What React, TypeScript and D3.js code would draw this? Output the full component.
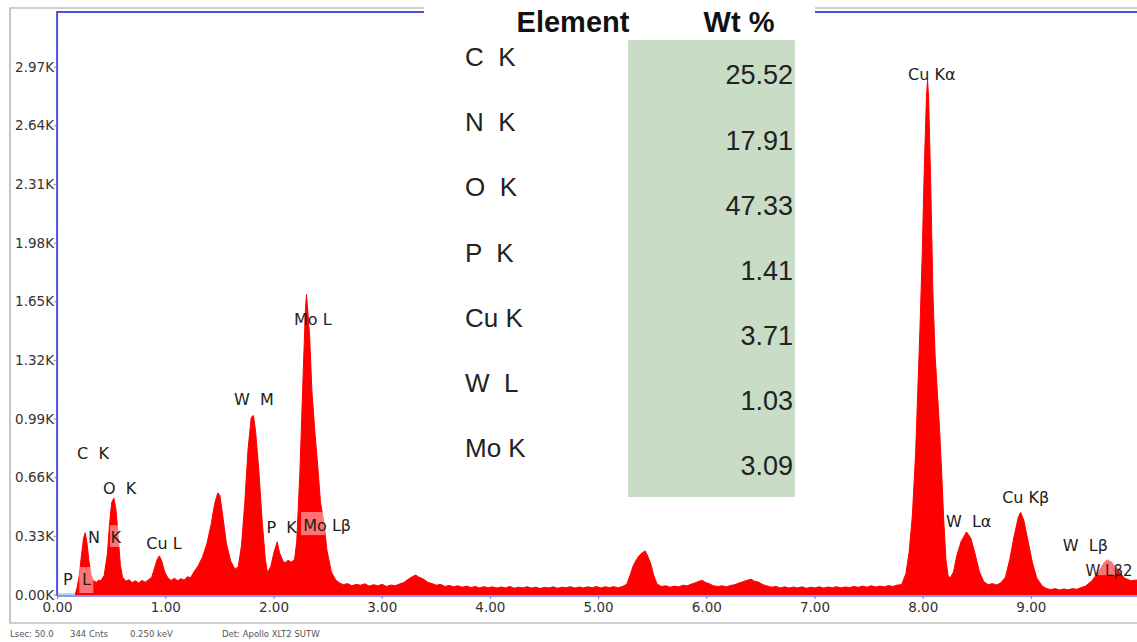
import { useEffect, useRef } from 'react';
import * as d3 from 'd3';

// EDS spectrum, as [keV, counts], in three stretches
const lowBand: [number, number][] = [
  [0.16, 0], [0.18, 40], [0.20, 110], [0.22, 220], [0.24, 320], [0.255, 350], [0.27, 300], [0.29, 190], [0.31, 110],
  [0.33, 80], [0.36, 72], [0.38, 84], [0.40, 80], [0.43, 110], [0.46, 230], [0.48, 400], [0.50, 520], [0.52, 545],
  [0.54, 480], [0.56, 330], [0.58, 170], [0.60, 100], [0.63, 78], [0.66, 86], [0.69, 70], [0.72, 80], [0.75, 68],
  [0.78, 82], [0.81, 72], [0.84, 86], [0.87, 100], [0.89, 140], [0.92, 200], [0.94, 220], [0.96, 195], [0.99, 130],
  [1.02, 95], [1.05, 82], [1.08, 94], [1.11, 80], [1.14, 92], [1.17, 84], [1.20, 102], [1.23, 98], [1.26, 130],
  [1.30, 165], [1.34, 215], [1.38, 290], [1.42, 400], [1.45, 510], [1.48, 575], [1.50, 560], [1.53, 430], [1.56, 290],
  [1.60, 190], [1.64, 145], [1.67, 160], [1.70, 280], [1.73, 520], [1.76, 820], [1.79, 1000], [1.81, 1010], [1.83, 920],
  [1.86, 700], [1.89, 420], [1.92, 200], [1.94, 125], [1.97, 160], [2.00, 240], [2.03, 300], [2.05, 240], [2.08, 195],
  [2.10, 180], [2.13, 195], [2.16, 185], [2.19, 200], [2.21, 300], [2.24, 700], [2.27, 1250], [2.29, 1600], [2.30, 1690],
  [2.31, 1620], [2.33, 1450], [2.35, 1150], [2.38, 900], [2.40, 760], [2.43, 520], [2.46, 410], [2.49, 250], [2.53, 130],
  [2.57, 85],
];
const midBand: [number, number][] = [
  [2.60, 70], [2.64, 58], [2.68, 64], [2.72, 52], [2.76, 60], [2.80, 55], [2.84, 63], [2.88, 50], [2.92, 58], [2.96, 52],
  [3.00, 60], [3.04, 48], [3.08, 56], [3.12, 52], [3.16, 62], [3.20, 70], [3.24, 88], [3.28, 104], [3.31, 112], [3.34, 100],
  [3.38, 90], [3.42, 72], [3.46, 64], [3.50, 55], [3.54, 60], [3.58, 48], [3.62, 54], [3.66, 46], [3.70, 52], [3.74, 44],
  [3.78, 50], [3.82, 42], [3.86, 48], [3.90, 40], [3.94, 47], [3.98, 41], [4.02, 46], [4.06, 39], [4.10, 45], [4.14, 40],
  [4.18, 48], [4.22, 38], [4.26, 44], [4.30, 40], [4.34, 47], [4.38, 39], [4.42, 44], [4.46, 37], [4.50, 43], [4.54, 40],
  [4.58, 46], [4.62, 38], [4.66, 44], [4.70, 41], [4.74, 47], [4.78, 39], [4.82, 45], [4.86, 40], [4.90, 46], [4.94, 41],
  [4.98, 48], [5.02, 40], [5.06, 46], [5.10, 42], [5.14, 47], [5.18, 41], [5.22, 48], [5.26, 60], [5.29, 110], [5.32, 165],
  [5.35, 200], [5.38, 225], [5.41, 240], [5.43, 248], [5.45, 225], [5.48, 180], [5.51, 110], [5.54, 62], [5.58, 48],
  [5.62, 52], [5.66, 44], [5.70, 50], [5.74, 46], [5.78, 55], [5.82, 52], [5.86, 62], [5.90, 70], [5.93, 78], [5.96, 82],
  [5.99, 70], [6.02, 64], [6.06, 52], [6.10, 48], [6.14, 52], [6.18, 46], [6.22, 54], [6.26, 58], [6.30, 68], [6.34, 76],
  [6.38, 84], [6.41, 88], [6.44, 78], [6.48, 72], [6.52, 58], [6.56, 50], [6.60, 44], [6.64, 48], [6.68, 40], [6.72, 46],
  [6.76, 39], [6.80, 45], [6.84, 40], [6.88, 46], [6.92, 38], [6.96, 44], [7.00, 40], [7.04, 46], [7.08, 39], [7.12, 45],
  [7.16, 41], [7.20, 47], [7.24, 40], [7.28, 45], [7.32, 42], [7.36, 48], [7.40, 43], [7.44, 50], [7.48, 44], [7.52, 52],
  [7.56, 45], [7.60, 50], [7.64, 46], [7.68, 53], [7.72, 48], [7.76, 56],
];
const highBand: [number, number][] = [
  [7.80, 58], [7.84, 120], [7.87, 240], [7.90, 450], [7.93, 800], [7.95, 1150], [7.97, 1500], [7.99, 1900], [8.01, 2400],
  [8.03, 2800], [8.04, 2900], [8.05, 2800], [8.07, 2300], [8.09, 1700], [8.11, 1350], [8.13, 1150], [8.15, 950],
  [8.17, 700], [8.19, 420], [8.21, 200], [8.23, 110], [8.25, 95], [8.28, 130], [8.31, 220], [8.35, 300], [8.40, 355],
  [8.44, 320], [8.48, 230], [8.52, 130], [8.56, 75], [8.60, 58], [8.64, 64], [8.68, 56], [8.72, 70], [8.76, 100],
  [8.80, 200], [8.84, 330], [8.88, 440], [8.90, 465], [8.93, 420], [8.97, 300], [9.01, 180], [9.05, 95], [9.10, 50],
  [9.14, 36], [9.18, 30], [9.22, 36], [9.26, 28], [9.30, 34], [9.34, 29], [9.38, 36], [9.42, 32], [9.46, 42], [9.50, 50],
  [9.56, 80], [9.62, 130], [9.67, 180], [9.70, 197], [9.74, 185], [9.80, 140], [9.86, 95], [9.92, 80], [9.97, 84],
  [10.0, 80],
];

const yTicks = [0, 330, 660, 990, 1320, 1650, 1980, 2310, 2640, 2970];
const xTicks = [0, 1, 2, 3, 4, 5, 6, 7, 8, 9];

// peak labels: text, left keV, centre counts
const labelText = ['C  K', 'O  K', 'N', 'K', 'P', 'L', 'Cu L', 'W  M', 'Mo L', 'P  K', 'Mo Lβ', 'Cu Kα', 'W  Lα', 'Cu Kβ', 'W  Lβ', 'W Lβ2'];
const labelKev = [0.18, 0.42, 0.28, 0.49, 0.05, 0.225, 0.82, 1.63, 2.185, 1.93, 2.27, 7.86, 8.21, 8.73, 9.29, 9.50];
const labelCounts = [799, 602, 326, 326, 90, 90, 292, 1102, 1552, 382, 394, 2930, 416, 551, 281, 135];

// highlighted marker boxes: [keV0, keV1, counts top, counts bottom]
const markKev0 = [0.20, 0.485, 2.25, 9.57];
const markKev1 = [0.33, 0.585, 2.47, 9.79];
const markTop = [157, 393, 467, 197];
const markBottom = [11, 270, 337, 112];

const tableElements = ['C  K', 'N  K', 'O  K', 'P  K', 'Cu K', 'W  L', 'Mo K'];
const tableWt = ['25.52', '17.91', '47.33', '1.41', '3.71', '1.03', '3.09'];

const footer = ['Lsec: 50.0', '344 Cnts', '0.250 keV', 'Det: Apollo XLT2 SUTW'];

const W = 1137, H = 642;

export default function App() {
  const ref = useRef<SVGSVGElement>(null);

  useEffect(() => {
    document.body.style.margin = '0';
    const svg = d3.select(ref.current);
    svg.selectAll('*').remove();

    const x = d3.scaleLinear().domain([0, 10]).range([57.6, 1139.6]);
    const y = d3.scaleLinear().domain([0, 3280]).range([595, 12]);
    const tickFont = '"DejaVu Sans", Verdana, sans-serif';

    svg.append('rect').attr('width', W).attr('height', H).attr('fill', '#fff');

    // outer grey frame
    svg.append('path').attr('d', `M${W},8H10V623H${W}`).attr('fill', 'none').attr('stroke', '#a0a0a0').attr('stroke-width', 1.2);

    svg.append('clipPath').attr('id', 'plot').append('rect')
      .attr('x', x(0)).attr('y', y(3280)).attr('width', x(10) - x(0)).attr('height', y(0) - y(3280));

    const pts = [...lowBand, ...midBand, ...highBand];
    const area = d3.area<[number, number]>().x(d => x(d[0])).y0(y(0)).y1(d => y(d[1]));
    svg.append('path').datum(pts).attr('clip-path', 'url(#plot)')
      .attr('d', area).attr('fill', '#ff0000').attr('stroke', '#ff0000').attr('stroke-width', 1).attr('stroke-linejoin', 'miter');

    // light baseline before spectrum starts
    svg.append('line').attr('x1', x(0)).attr('x2', x(0.16)).attr('y1', y(0) - 1).attr('y2', y(0) - 1)
      .attr('stroke', '#a8e0f0').attr('stroke-width', 2);

    // marker highlight boxes
    markKev0.forEach((k, i) => {
      svg.append('rect').attr('x', x(k)).attr('y', y(markTop[i]))
        .attr('width', x(markKev1[i]) - x(k)).attr('height', y(markBottom[i]) - y(markTop[i]))
        .attr('fill', 'rgba(255,255,255,0.45)');
    });

    // axes lines
    svg.append('line').attr('x1', x(0)).attr('x2', W).attr('y1', y(0) + 1).attr('y2', y(0) + 1)
      .attr('stroke', '#6f6fe6').attr('stroke-width', 1.5);
    svg.append('path').attr('d', `M${x(0) - 0.5},${y(0) + 1}V12H${W}`).attr('fill', 'none')
      .attr('stroke', '#5050e0').attr('stroke-width', 2);

    // y ticks
    const gy = svg.append('g');
    gy.selectAll('text').data(yTicks).enter().append('text')
      .attr('x', 54).attr('y', d => y(d)).attr('dy', '0.35em').attr('text-anchor', 'end')
      .style('font-family', tickFont).style('font-size', '13.5px').style('fill', '#333')
      .text(d => `${(d / 1000).toFixed(2)}K`);
    gy.selectAll('line').data(yTicks).enter().append('line')
      .attr('x1', 54).attr('x2', 57).attr('y1', d => y(d)).attr('y2', d => y(d)).attr('stroke', '#888');

    // x ticks
    const gx = svg.append('g');
    gx.selectAll('text').data(xTicks).enter().append('text')
      .attr('x', d => x(d)).attr('y', 607).attr('dy', '0.35em').attr('text-anchor', 'middle')
      .style('font-family', tickFont).style('font-size', '13.5px').style('fill', '#333')
      .text(d => d.toFixed(2));
    gx.selectAll('line').data(xTicks).enter().append('line')
      .attr('x1', d => x(d)).attr('x2', d => x(d)).attr('y1', y(0) + 1).attr('y2', y(0) + 4).attr('stroke', '#6f6fe6');

    // peak labels
    svg.append('g').selectAll('text').data(labelText).enter().append('text')
      .attr('x', (_, i) => x(labelKev[i])).attr('y', (_, i) => y(labelCounts[i])).attr('dy', '0.35em')
      .style('font-family', tickFont).style('font-size', (_, i) => i === labelText.length - 1 ? '15px' : '16px')
      .style('fill', '#222').style('white-space', 'pre').attr('xml:space', 'preserve')
      .text(d => d);

    // footer
    const footX = [10, 70, 130, 222];
    svg.append('g').selectAll('text').data(footer).enter().append('text')
      .attr('x', (_, i) => footX[i]).attr('y', 634).attr('dy', '0.35em')
      .style('font-family', tickFont).style('font-size', '8.5px').style('fill', '#555')
      .text(d => d);

    // Wt % table overlay
    const table = svg.append('g');
    table.append('rect').attr('x', 424).attr('y', 0).attr('width', 391).attr('height', 40).attr('fill', '#fff');
    table.append('rect').attr('x', 628).attr('y', 40).attr('width', 167).attr('height', 457).attr('fill', '#c8dcc6');
    const tFont = '"Liberation Sans", Arial, sans-serif';
    table.append('text').attr('x', 573).attr('y', 22).attr('dy', '0.35em').attr('text-anchor', 'middle')
      .style('font-family', tFont).style('font-weight', 'bold').style('font-size', '29px').style('fill', '#111').text('Element');
    table.append('text').attr('x', 739).attr('y', 22).attr('dy', '0.35em').attr('text-anchor', 'middle')
      .style('font-family', tFont).style('font-weight', 'bold').style('font-size', '29px').style('fill', '#111').text('Wt %');
    const row = d3.scaleLinear().domain([0, 6]).range([57, 448]);
    table.selectAll('text.el').data(tableElements).enter().append('text').attr('class', 'el')
      .attr('x', 465).attr('y', (_, i) => row(i)).attr('dy', '0.35em').attr('xml:space', 'preserve')
      .style('font-family', tFont).style('font-size', '26px').style('fill', '#222').style('white-space', 'pre')
      .text(d => d);
    table.selectAll('text.wt').data(tableWt).enter().append('text').attr('class', 'wt')
      .attr('x', 793).attr('y', (_, i) => row(i) + 18).attr('dy', '0.35em').attr('text-anchor', 'end')
      .style('font-family', tFont).style('font-size', '27px').style('fill', '#222')
      .text(d => d);
  }, []);

  return <svg ref={ref} width={W} height={H} style={{ display: 'block' }} />;
}
